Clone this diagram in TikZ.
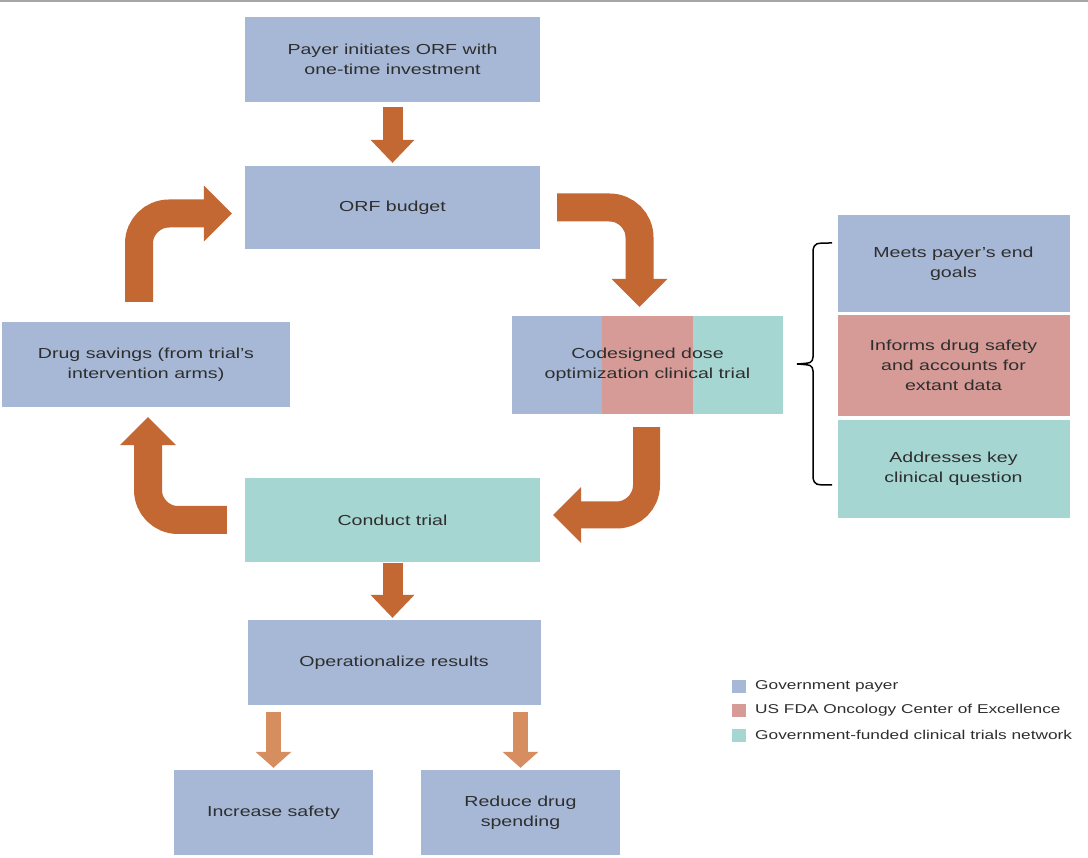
\documentclass[tikz,border=0pt]{standalone}
\usepackage{fontspec}
\setmainfont{Liberation Sans}[FakeStretch=1.35]
\usetikzlibrary{arrows.meta,calc,backgrounds}
\definecolor{payer}{HTML}{A7B8D6}
\definecolor{fda}{HTML}{D69B96}
\definecolor{net}{HTML}{A6D6D2}
\definecolor{arr}{HTML}{C46833}
\definecolor{arrl}{HTML}{D68E60}
\definecolor{txt}{HTML}{2E2E2E}
\begin{document}
\begin{tikzpicture}[x=1pt,y=-1pt,
  box/.style={rectangle, inner sep=0pt, align=center, text=txt,
    font=\fontsize{14.5}{20}\selectfont},
  bluebox/.style={box, fill=payer},
  pinkbox/.style={box, fill=fda},
  tealbox/.style={box, fill=net},
  sz/.style 2 args={minimum width=#1pt, minimum height=#2pt},
  barrow/.style={draw=arr, line width=20pt,
    -{Triangle[width=44pt,length=23pt,line width=0pt]}},
  carrow/.style={draw=arr, line width=28pt, rounded corners=30pt,
    -{Triangle[width=56pt,length=28pt,line width=0pt]}},
  larrow/.style={draw=arrl, line width=15pt,
    -{Triangle[width=36pt,length=16pt,line width=0pt]}},
  legsq/.style={rectangle, inner sep=0pt, minimum width=14pt, minimum height=13pt},
  legtxt/.style={anchor=west, inner sep=0pt, text=txt,
    font=\fontsize{12.8}{15}\selectfont},
  bracestyle/.style={draw=black, line width=1.5pt}
]
\useasboundingbox (0,0) rectangle (1088,858);
\draw[gray!70, line width=2pt] (0,1) -- (1088,1);

% main boxes
\node[bluebox, sz={295}{85}] (init) at (392.5,59.5) {Payer initiates ORF with\\one-time investment};
\node[bluebox, sz={295}{83}] (orf) at (392.5,207.5) {ORF budget};
\node[bluebox, sz={288}{85}] (drug) at (146,364.5) {Drug savings (from trial's\\intervention arms)};
\node[box, sz={271}{98}] (code) at (647.5,365) {Codesigned dose\\optimization clinical trial};
\node[tealbox, sz={295}{84}] (trial) at (392.5,520) {Conduct trial};
\node[bluebox, sz={293}{85}] (oper) at (394,662.5) {Operationalize results};
\node[bluebox, sz={199}{85}] (safe) at (273.5,812.5) {Increase safety};
\node[bluebox, sz={199}{85}] (reduce) at (520.5,812.5) {Reduce drug\\spending};

\begin{scope}[on background layer]
\fill[white] (0,2) rectangle (1088,858);
\fill[payer] (code.north west) rectangle ($(code.south west)!1/3!(code.south east)$);
\fill[fda] ($(code.north west)!1/3!(code.north east)$) rectangle ($(code.south west)!2/3!(code.south east)$);
\fill[net] ($(code.north west)!2/3!(code.north east)$) rectangle (code.south east);
\end{scope}

% right boxes
\node[bluebox, sz={232}{97}] (goals) at (953.5,263.5) {Meets payer's end\\goals};
\node[pinkbox, sz={232}{101}] (inform) at (953.5,365.5) {Informs drug safety\\and accounts for\\extant data};
\node[tealbox, sz={232}{98}] (address) at (953.5,469) {Addresses key\\clinical question};

% brace
\draw[bracestyle] (832,243) .. controls (815,243) .. (813,250) -- (813,357)
  .. controls (812,363) .. (797,364) .. controls (812,365) .. (813,371)
  -- (813,478) .. controls (815,485) .. (832,485);

% straight arrows
\draw[barrow, shorten <=5pt, shorten >=3pt] (init.south) -- (orf.north);
\draw[barrow, shorten <=1pt, shorten >=2pt] (trial.south) -- (trial.south |- oper.north);
\draw[larrow] ([yshift=-7pt]safe.north |- oper.south) -- ([yshift=2pt]safe.north);
\draw[larrow] ([yshift=-7pt]reduce.north |- oper.south) -- ([yshift=2pt]reduce.north);

% curved arrows
\draw[carrow] ([xshift=17pt]orf.east) -| ([xshift=-8pt,yshift=9pt]code.north);
\draw[carrow, line width=27pt] ([xshift=-1pt,yshift=-13pt]code.south) |- ([xshift=13pt,yshift=5pt]trial.east);
\draw[carrow] ([xshift=-18pt]trial.west) -| ([xshift=2pt,yshift=-10pt]drug.south);
\draw[carrow] ([xshift=-7pt,yshift=20pt]drug.north) |- ([xshift=-13pt,yshift=-6pt]orf.west);

% legend
\node[legsq, fill=payer] (lq1) at (739,686) {};
\node[legsq, fill=fda] (lq2) at (739,710) {};
\node[legsq, fill=net] (lq3) at (739,735) {};
\node[legtxt] (lt1) at (755,686) {Government payer};
\node[legtxt] (lt2) at (755,710) {US FDA Oncology Center of Excellence};
\node[legtxt] (lt3) at (755,735) {Government-funded clinical trials network};
\end{tikzpicture}
\end{document}
